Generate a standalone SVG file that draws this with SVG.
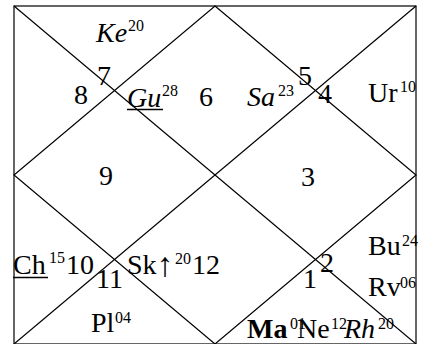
<svg xmlns="http://www.w3.org/2000/svg" width="425" height="344" viewBox="0 0 425 344">
<style>
text{font-family:"Liberation Serif","Times New Roman",serif;font-size:28px;fill:#000}
.s{font-size:16px}
.i{font-style:italic}
.b{font-weight:bold}
.ar{font-size:34px}
.grid{fill:none;stroke:#000;stroke-width:1.2}
.ul{stroke:#000;stroke-width:1.5}
</style>
<rect width="425" height="344" fill="#fff"/>
<g id="grid" class="grid">
<rect x="14" y="6" width="402" height="338"/>
<line x1="14" y1="6" x2="416" y2="344"/>
<line x1="416" y1="6" x2="14" y2="344"/>
<polygon points="215,6 416,175 215,344 14,175"/>
</g>
<g id="house7">
<text x="96" y="42" class="i">Ke</text><text x="128" y="31" class="s">20</text>
<text x="97" y="85">7</text>
</g>
<g id="house8">
<text x="74" y="104">8</text>
</g>
<g id="house6">
<text x="127" y="107" class="i">Gu</text><text x="162" y="96" class="s">28</text>
<line class="ul" x1="127" y1="109.5" x2="163" y2="109.5"/>
<text x="199" y="106">6</text>
</g>
<g id="house5">
<text x="247" y="106" class="i">Sa</text><text x="278" y="96" class="s">23</text>
<text x="298" y="85">5</text>
</g>
<g id="house4">
<text x="318" y="103">4</text>
<text x="368" y="102">Ur</text><text x="400" y="92" class="s">10</text>
</g>
<g id="house9">
<text x="99" y="185">9</text>
</g>
<g id="house3">
<text x="301" y="186">3</text>
</g>
<g id="house10">
<text x="13" y="274">Ch</text><text x="49" y="263" class="s">15</text>
<line class="ul" x1="13" y1="277.5" x2="48" y2="277.5"/>
<text x="66" y="274">10</text>
</g>
<g id="house11">
<text x="96" y="288">11</text>
<text x="91" y="332">Pl</text><text x="115" y="323" class="s">04</text>
</g>
<g id="house12">
<text x="127" y="274">Sk<tspan class="ar" y="276">↑</tspan></text><text x="175" y="264" class="s">20</text>
<text x="192" y="274">12</text>
</g>
<g id="house2">
<text x="320" y="272">2</text>
<text x="368" y="255">Bu</text><text x="402" y="246" class="s">24</text>
<text x="368" y="296">Rv</text><text x="400" y="288" class="s">06</text>
</g>
<g id="house1">
<text x="303" y="288">1</text>
<text x="247" y="338" class="b">Ma</text><text x="290" y="329" class="s">01</text>
<text x="297" y="338">Ne</text><text x="331" y="329" class="s">12</text>
<text x="344" y="338" class="i">Rh</text><text x="378" y="329" class="s">20</text>
</g>
</svg>
